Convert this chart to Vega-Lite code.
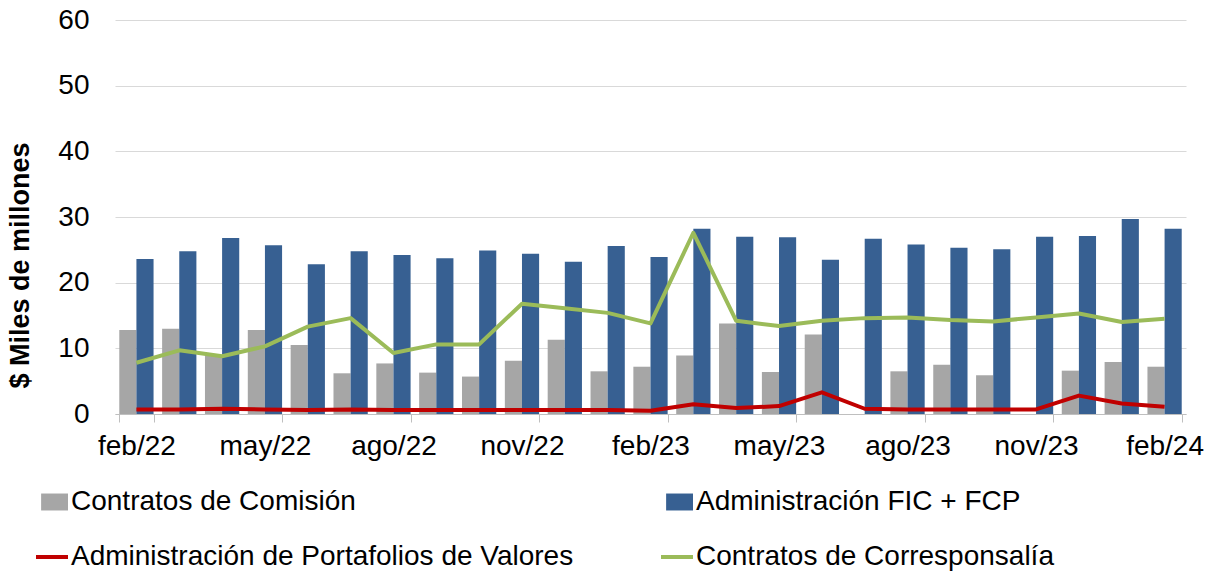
{
  "$schema": "https://vega.github.io/schema/vega-lite/v6.json",
  "width": 1071,
  "height": 394,
  "autosize": {"type": "none"},
  "padding": {"left": 115, "top": 20, "right": 24, "bottom": 157},
  "config": {
    "font": "Liberation Sans",
    "view": {"stroke": null},
    "axis": {"labelColor": "#000000", "titleColor": "#000000"}
  },
  "data": {
    "values": [
      {"mes": "feb/22", "com": 12.8, "fic": 23.6, "port": 0.7, "corr": 7.8},
      {"mes": "mar/22", "com": 13.0, "fic": 24.8, "port": 0.7, "corr": 9.7},
      {"mes": "abr/22", "com": 9.0, "fic": 26.8, "port": 0.8, "corr": 8.8},
      {"mes": "may/22", "com": 12.8, "fic": 25.7, "port": 0.7, "corr": 10.3},
      {"mes": "jun/22", "com": 10.5, "fic": 22.8, "port": 0.6, "corr": 13.3},
      {"mes": "jul/22", "com": 6.2, "fic": 24.8, "port": 0.7, "corr": 14.6},
      {"mes": "ago/22", "com": 7.7, "fic": 24.2, "port": 0.6, "corr": 9.3},
      {"mes": "sep/22", "com": 6.3, "fic": 23.7, "port": 0.6, "corr": 10.6},
      {"mes": "oct/22", "com": 5.7, "fic": 24.9, "port": 0.6, "corr": 10.6},
      {"mes": "nov/22", "com": 8.1, "fic": 24.4, "port": 0.6, "corr": 16.8},
      {"mes": "dic/22", "com": 11.3, "fic": 23.2, "port": 0.6, "corr": 16.1},
      {"mes": "ene/23", "com": 6.5, "fic": 25.6, "port": 0.6, "corr": 15.4},
      {"mes": "feb/23", "com": 7.2, "fic": 23.9, "port": 0.5, "corr": 13.8},
      {"mes": "mar/23", "com": 8.9, "fic": 28.2, "port": 1.5, "corr": 27.6},
      {"mes": "abr/23", "com": 13.8, "fic": 27.0, "port": 0.9, "corr": 14.2},
      {"mes": "may/23", "com": 6.4, "fic": 26.9, "port": 1.2, "corr": 13.4},
      {"mes": "jun/23", "com": 12.1, "fic": 23.5, "port": 3.3, "corr": 14.2},
      {"mes": "jul/23", "com": null, "fic": 26.7, "port": 0.8, "corr": 14.6},
      {"mes": "ago/23", "com": 6.5, "fic": 25.8, "port": 0.7, "corr": 14.7},
      {"mes": "sep/23", "com": 7.5, "fic": 25.3, "port": 0.7, "corr": 14.3},
      {"mes": "oct/23", "com": 5.9, "fic": 25.1, "port": 0.7, "corr": 14.1},
      {"mes": "nov/23", "com": null, "fic": 27.0, "port": 0.7, "corr": 14.7},
      {"mes": "dic/23", "com": 6.6, "fic": 27.1, "port": 2.8, "corr": 15.3},
      {"mes": "ene/24", "com": 7.9, "fic": 29.7, "port": 1.6, "corr": 14.0},
      {"mes": "feb/24", "com": 7.2, "fic": 28.2, "port": 1.1, "corr": 14.5}
    ]
  },
  "transform": [
    {"fold": ["com", "fic", "port", "corr"], "as": ["serie", "valor"]}
  ],
  "encoding": {
    "x": {
      "field": "mes",
      "type": "nominal",
      "sort": null,
      "scale": {
        "domain": ["feb/22","mar/22","abr/22","may/22","jun/22","jul/22","ago/22","sep/22","oct/22","nov/22","dic/22","ene/23","feb/23","mar/23","abr/23","may/23","jun/23","jul/23","ago/23","sep/23","oct/23","nov/23","dic/23","ene/24","feb/24"],
        "paddingInner": 0.2,
        "paddingOuter": 0.1
      },
      "axis": {
        "values": ["feb/22","may/22","ago/22","nov/22","feb/23","may/23","ago/23","nov/23","feb/24"],
        "tickBand": "extent",
        "labelAngle": 0,
        "labelFontSize": 28,
        "labelPadding": 10,
        "labelOverlap": false,
        "tickSize": 8,
        "tickColor": "#bfbfbf",
        "domainColor": "#bfbfbf",
        "grid": false,
        "title": null
      }
    },
    "y": {
      "field": "valor",
      "type": "quantitative",
      "scale": {"domain": [0, 60]},
      "axis": {
        "values": [0, 10, 20, 30, 40, 50, 60],
        "labelFontSize": 28,
        "labelPadding": 26,
        "ticks": false,
        "domain": false,
        "grid": true,
        "gridColor": "#d9d9d9",
        "title": "$ Miles de millones",
        "titleFontSize": 27,
        "titleFontWeight": "bold",
        "titleX": -95,
        "titleY": 245,
        "titleAngle": -90,
        "titleAlign": "center",
        "titleBaseline": "middle"
      }
    },
    "color": {
      "field": "serie",
      "type": "nominal",
      "scale": {
        "domain": ["com", "fic", "port", "corr"],
        "range": ["#a6a6a6", "#376092", "#c00000", "#9bbb59"]
      },
      "legend": {
        "orient": "none",
        "legendX": -77,
        "legendY": 468,
        "direction": "horizontal",
        "columns": 2,
        "columnPadding": 79,
        "rowPadding": 27,
        "title": null,
        "labelFontSize": 28,
        "labelLimit": 800,
        "labelOffset": 5,
        "labelColor": "#000000",
        "symbolSize": 1024,
        "labelExpr": "datum.value == 'com' ? 'Contratos de Comisión' : datum.value == 'fic' ? 'Administración FIC + FCP' : datum.value == 'port' ? 'Administración de Portafolios de Valores' : 'Contratos de Corresponsalía'",
        "encode": {
          "symbols": {
            "update": {
              "shape": {"signal": "datum.value == 'com' || datum.value == 'fic' ? 'M-0.68,-0.53H1V0.53H-0.68Z' : 'stroke'"},
              "fill": {"scale": "color", "field": "value"},
              "stroke": {"scale": "color", "field": "value"},
              "strokeWidth": {"signal": "datum.value == 'com' || datum.value == 'fic' ? 0 : 4"},
              "opacity": {"value": 1},
              "fillOpacity": {"value": 1}
            }
          }
        }
      }
    }
  },
  "layer": [
    {
      "transform": [{"filter": "datum.serie == 'com' || datum.serie == 'fic'"}],
      "mark": {"type": "bar"},
      "encoding": {
        "xOffset": {"field": "serie", "type": "nominal", "scale": {"domain": ["com", "fic"], "paddingInner": 0, "paddingOuter": 0}}
      }
    },
    {
      "transform": [{"filter": "datum.serie == 'port' || datum.serie == 'corr'"}],
      "mark": {"type": "line", "strokeWidth": 4, "strokeJoin": "round"},
      "encoding": {}
    }
  ]
}
